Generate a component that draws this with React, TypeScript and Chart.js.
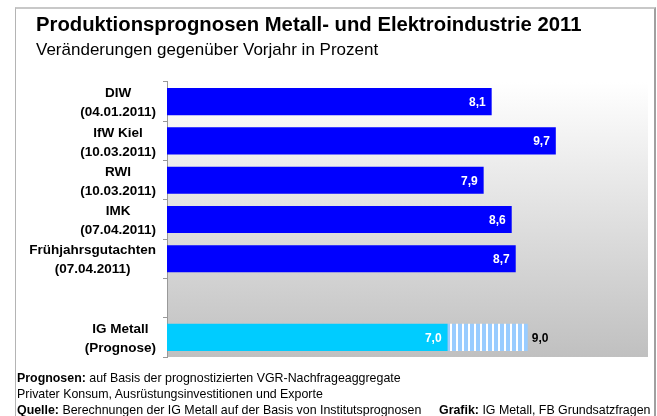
import React, { useEffect, useRef } from "react";
import { Chart, registerables } from "chart.js";

Chart.register(...registerables);

// ---- data ----
const categories: string[][] = [
  ["DIW", "(04.01.2011)"],
  ["IfW Kiel", "(10.03.2011)"],
  ["RWI", "(10.03.2011)"],
  ["IMK", "(07.04.2011)"],
  ["Frühjahrsgutachten", "(07.04.2011)"],
  [""],
  ["IG Metall", "(Prognose)"],
];
const forecastValues: (number | null)[] = [8.1, 9.7, 7.9, 8.6, 8.7, null, 7.0];
const igMetallRange: [number, number] = [7.0, 9.0];
const rangeValues: ([number, number] | null)[] = [null, null, null, null, null, null, igMetallRange];
const xMin = 0;
const xMax = 12;

const titleText = "Produktionsprognosen Metall- und Elektroindustrie 2011";
const subtitleText = "Veränderungen gegenüber Vorjahr in Prozent";

const FONT = '"Liberation Sans", Arial, Helvetica, sans-serif';
const BLUE = "#0000ff";
const CYAN = "#00ccff";
const STRIPE_BLUE = "#99ccff";

const fmt = (v: number) => v.toFixed(1).replace(".", ",");

function makeStripes(ctx: CanvasRenderingContext2D): CanvasPattern | string {
  const c = document.createElement("canvas");
  c.width = 6;
  c.height = 4;
  const g = c.getContext("2d");
  if (!g) return STRIPE_BLUE;
  g.fillStyle = "#ffffff";
  g.fillRect(0, 0, 6, 4);
  g.fillStyle = STRIPE_BLUE;
  g.fillRect(2, 0, 4, 4);
  return ctx.createPattern(c, "repeat") || STRIPE_BLUE;
}

const backgroundPlugin = {
  id: "plotGradient",
  beforeDraw(chart: any) {
    const { ctx, chartArea } = chart;
    if (!chartArea) return;
    const g = ctx.createLinearGradient(0, chartArea.top, 0, chartArea.bottom);
    g.addColorStop(0, "#ffffff");
    g.addColorStop(1, "#c0c0c0");
    ctx.save();
    ctx.fillStyle = g;
    ctx.fillRect(chartArea.left, chartArea.top, chartArea.right - chartArea.left, chartArea.bottom - chartArea.top);
    ctx.restore();
  },
};

const labelPlugin = {
  id: "customLabels",
  afterDraw(chart: any) {
    const { ctx, chartArea } = chart;
    const yScale = chart.scales.y;
    ctx.save();
    // category labels: lines centered within block, block right-aligned
    ctx.font = `bold 13.5px ${FONT}`;
    ctx.fillStyle = "#000";
    ctx.textAlign = "center";
    ctx.textBaseline = "middle";
    const right = chartArea.left - 11;
    const lineGap = 19;
    categories.forEach((lines, i) => {
      const y = yScale.getPixelForTick(i) + 1.5;
      const widths = lines.map((l) => ctx.measureText(l).width);
      const w = Math.max(...widths);
      const cx = right - w / 2;
      lines.forEach((l, k) => {
        const dy = (k - (lines.length - 1) / 2) * lineGap;
        ctx.fillText(l, cx, y + dy);
      });
    });

    // value labels
    ctx.font = `bold 12px ${FONT}`;
    const meta0 = chart.getDatasetMeta(0);
    meta0.data.forEach((bar: any, i: number) => {
      const v = forecastValues[i];
      if (v == null) return;
      ctx.fillStyle = "#ffffff";
      ctx.textAlign = "right";
      ctx.fillText(fmt(v), bar.x - 6, bar.y + 1);
    });
    const meta1 = chart.getDatasetMeta(1);
    meta1.data.forEach((bar: any, i: number) => {
      const r = rangeValues[i];
      if (!r) return;
      ctx.fillStyle = "#000000";
      ctx.textAlign = "left";
      ctx.fillText(fmt(r[1]), bar.x + 4, bar.y + 1);
    });
    ctx.restore();
  },
};

export default function App() {
  const ref = useRef<HTMLCanvasElement | null>(null);

  useEffect(() => {
    const canvas = ref.current;
    if (!canvas) return;
    const ctx = canvas.getContext("2d")!;
    const stripes = makeStripes(ctx);
    const chart = new Chart(canvas, {
      type: "bar",
      data: {
        labels: categories,
        datasets: [
          {
            data: forecastValues as any,
            backgroundColor: forecastValues.map((_, i) => (i === categories.length - 1 ? CYAN : BLUE)),
            borderWidth: 0,
            grouped: false,
            barPercentage: 0.69,
            categoryPercentage: 1,
          } as any,
          {
            data: rangeValues as any,
            backgroundColor: stripes as any,
            borderWidth: 0,
            grouped: false,
            barPercentage: 0.69,
            categoryPercentage: 1,
          } as any,
        ],
      },
      options: {
        indexAxis: "y",
        responsive: false,
        animation: false,
        events: [],
        layout: { padding: { left: 36, right: 9, top: 0, bottom: 59 } },
        scales: {
          x: { display: false, min: xMin, max: xMax },
          y: {
            offset: true,
            afterFit: (s: any) => {
              s.width = 131;
            },
            grid: {
              display: true,
              drawOnChartArea: false,
              drawTicks: true,
              tickLength: 4,
              color: "#999999",
              offset: true,
            },
            border: { display: true, color: "#999999" },
            ticks: {
              color: "rgba(0,0,0,0)",
              font: { family: FONT, size: 13.5, weight: "bold" },
            },
          },
        },
        plugins: {
          legend: { display: false },
          tooltip: { enabled: false },
          title: {
            display: true,
            text: titleText,
            align: "start",
            color: "#000",
            font: { family: FONT, size: 20.3, weight: "bold", lineHeight: 1.2 },
            padding: { top: 12.8, bottom: 2.7 },
          },
          subtitle: {
            display: true,
            text: subtitleText,
            align: "start",
            color: "#000",
            font: { family: FONT, size: 17, weight: "normal", lineHeight: 1.2 },
            padding: { top: 0, bottom: 21.7 },
          },
        },
      } as any,
      plugins: [backgroundPlugin, labelPlugin],
    });
    return () => chart.destroy();
  }, []);

  return (
    <div
      style={{
        position: "absolute",
        left: 0,
        top: 0,
        width: 657,
        height: 416,
        overflow: "hidden",
        background: "#ffffff",
        fontFamily: FONT,
      }}
    >
      <div
        style={{
          position: "absolute",
          left: 15,
          top: 7,
          width: 638,
          height: 500,
          borderLeft: "1px solid #b4b4b4",
          borderTop: "2px solid #c8c8c8",
          borderRight: "2px solid #a0a0a0",
        }}
      />
      <canvas
        ref={ref}
        width={657}
        height={416}
        style={{ position: "absolute", left: 0, top: 0, width: 657, height: 416 }}
      />
      <div
        style={{
          position: "absolute",
          left: 17,
          top: 370,
          fontSize: 12.4,
          lineHeight: "16px",
          color: "#000",
          whiteSpace: "nowrap",
        }}
      >
        <b>Prognosen:</b> auf Basis der prognostizierten VGR-Nachfrageaggregate
        <br />
        Privater Konsum, Ausrüstungsinvestitionen und Exporte
        <br />
        <b>Quelle:</b> Berechnungen der IG Metall auf der Basis von Institutsprognosen
      </div>
      <div
        style={{
          position: "absolute",
          left: 439,
          top: 402,
          fontSize: 12.4,
          lineHeight: "16px",
          color: "#000",
          whiteSpace: "nowrap",
        }}
      >
        <b>Grafik:</b> IG Metall, FB Grundsatzfragen
      </div>
    </div>
  );
}
